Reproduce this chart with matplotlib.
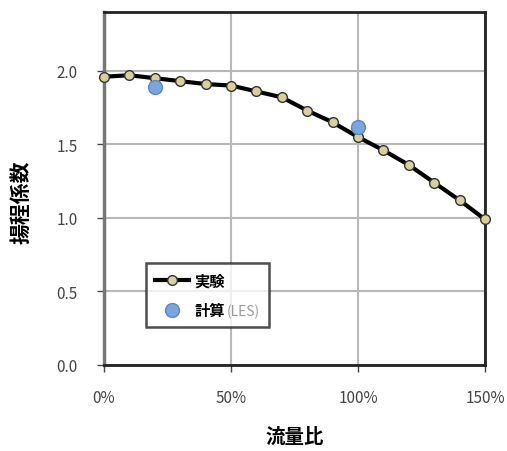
import matplotlib
matplotlib.use("Agg")
import matplotlib.pyplot as plt
from matplotlib.ticker import FuncFormatter
from matplotlib.offsetbox import TextArea, HPacker

plt.rcParams['font.family'] = ['Noto Sans CJK JP', 'DejaVu Sans']

flow_ratio = [0, 10, 20, 30, 40, 50, 60, 70, 80, 90, 100, 110, 120, 130, 140, 150]
exp_head = [1.96, 1.97, 1.95, 1.93, 1.91, 1.90, 1.86, 1.82, 1.73, 1.65, 1.55, 1.46, 1.36, 1.24, 1.12, 0.99]
les_flow = [20, 100]
les_head = [1.89, 1.62]
xticks = [0, 50, 100, 150]
yticks = [0.0, 0.5, 1.0, 1.5, 2.0]

W, H = 5.07, 4.52
fig = plt.figure(figsize=(W, H), dpi=100)
ax = fig.add_axes([104/507, 1-366/452, (485-104)/507, (366-13)/452])

ax.plot(flow_ratio, exp_head, color='black', lw=3, marker='o', ms=7,
        mfc='#d9cf9a', mec='#333333', mew=1, label='実験', zorder=3, clip_on=False)
ax.plot(les_flow, les_head, ls='none', marker='o', ms=10, mfc='#7aa6e0',
        mec='#5b86c4', mew=1, label='計算', zorder=4, clip_on=False)

ax.set_xlim(0, 150)
ax.set_ylim(0, 2.4)
ax.set_xticks(xticks)
ax.set_yticks(yticks)
ax.xaxis.set_major_formatter(FuncFormatter(lambda v, p: f"{int(v)}%"))
ax.yaxis.set_major_formatter(FuncFormatter(lambda v, p: f"{v:.1f}"))
ax.grid(True, color='#b8b8b8', lw=1.5)
ax.set_axisbelow(True)
ax.tick_params(axis='both', colors='#444444', labelsize=11, length=5, width=1)
ax.tick_params(axis='y', pad=14)
ax.tick_params(axis='x', pad=12)
for s in ['top', 'right', 'bottom']:
    ax.spines[s].set_color('#222222')
    ax.spines[s].set_linewidth(2)
ax.spines['left'].set_color('#777777')
ax.spines['left'].set_linewidth(2.5)

ax.set_xlabel('流量比', fontsize=14, fontweight='bold')
ax.xaxis.set_label_coords(0.5, -0.175)
ax.set_ylabel('揚程係数', fontsize=15, fontweight='bold')
ax.yaxis.set_label_coords(-0.19, 0.465)

leg = ax.legend(loc='upper left', bbox_to_anchor=(0.09, 0.31), frameon=True,
                fancybox=False, edgecolor='#222222',
                prop={'size': 11, 'weight': 'bold'},
                handlelength=2.2, borderpad=0.6, labelspacing=0.9,
                handletextpad=0.4)
leg.get_frame().set_linewidth(1.8)

# append gray "(LES)" to the second legend label
try:
    column = leg._legend_handle_box.get_children()[0]
    row = column.get_children()[1]
    kids = row.get_children()
    ta = TextArea('(LES)', textprops=dict(color='#9a9a9a', size=10))
    kids[1] = HPacker(children=[kids[1], ta], pad=0, sep=1, align='baseline')
    for k in kids:
        k.set_figure(fig)
except Exception:
    leg.texts[1].set_text('計算(LES)')
fig.savefig('out.png', dpi=100)
